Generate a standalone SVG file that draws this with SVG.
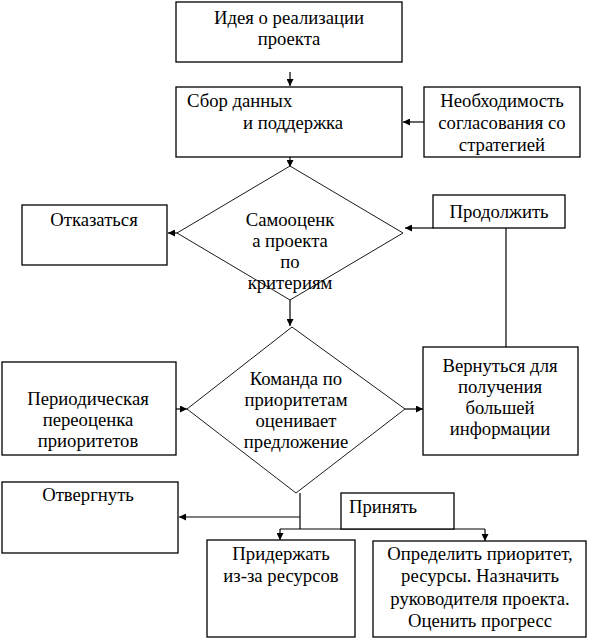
<svg xmlns="http://www.w3.org/2000/svg" width="590" height="638" viewBox="0 0 590 638">
<style>
.box{fill:#fff;stroke:#000;stroke-width:1.3}
.dia{fill:#fff;stroke:#000;stroke-width:0.9}
.ln{fill:none;stroke:#000;stroke-width:1.2}
text{font-family:'Liberation Serif','Times New Roman','DejaVu Serif',serif;font-size:18.7px;fill:#000}
.c{text-anchor:middle}
</style>
<defs>
<marker id="ah" viewBox="0 0 10 10" refX="10" refY="5" markerWidth="7" markerHeight="7" markerUnits="userSpaceOnUse" orient="auto">
<path d="M0,0 L10,5 L0,10 z" fill="#000"/>
</marker>
</defs>
<rect width="590" height="638" fill="#fff"/>
<g id="connectors">
<line class="ln" x1="290" y1="72" x2="290" y2="86" marker-end="url(#ah)"/>
<line class="ln" x1="424" y1="122" x2="403" y2="122" marker-end="url(#ah)"/>
<line class="ln" x1="290" y1="157" x2="290" y2="167" marker-end="url(#ah)"/>
<line class="ln" x1="177" y1="233" x2="168" y2="233" marker-end="url(#ah)"/>
<line class="ln" x1="433" y1="228" x2="405" y2="228" marker-end="url(#ah)"/>
<line class="ln" x1="506" y1="228" x2="506" y2="347"/>
<line class="ln" x1="290" y1="300" x2="290" y2="326" marker-end="url(#ah)"/>
<line class="ln" x1="176" y1="409" x2="187" y2="409" marker-end="url(#ah)"/>
<line class="ln" x1="405" y1="409" x2="423" y2="409" marker-end="url(#ah)"/>
<line class="ln" x1="300" y1="493" x2="300" y2="529"/>
<line class="ln" x1="300" y1="517" x2="179" y2="517" marker-end="url(#ah)"/>
<line class="ln" x1="280" y1="529" x2="485" y2="529"/>
<line class="ln" x1="280" y1="529" x2="280" y2="540" marker-end="url(#ah)"/>
<line class="ln" x1="485" y1="529" x2="485" y2="541" marker-end="url(#ah)"/>
</g>
<g id="idea">
<rect class="box" x="176" y="2" width="226" height="60"/>
<text class="c" x="289" y="24">Идея о реализации</text>
<text class="c" x="289" y="45">проекта</text>
</g>
<g id="collect">
<rect class="box" x="176" y="87" width="226" height="70"/>
<text x="187" y="107">Сбор данных</text>
<text x="243" y="129">и поддержка</text>
</g>
<g id="strategy">
<rect class="box" x="424" y="87" width="156" height="70"/>
<text class="c" x="502" y="107">Необходимость</text>
<text class="c" x="502" y="129">согласования со</text>
<text class="c" x="502" y="151">стратегией</text>
</g>
<g id="refuse">
<rect class="box" x="22" y="205" width="145" height="60"/>
<text class="c" x="94" y="226">Отказаться</text>
</g>
<g id="selfeval">
<polygon class="dia" points="290,166 403,233 290,300 177,233"/>
<text class="c" x="290" y="226">Самооценк</text>
<text class="c" x="290" y="247">а проекта</text>
<text class="c" x="290" y="268">по</text>
<text class="c" x="290" y="289">критериям</text>
</g>
<g id="continue">
<rect class="box" x="433" y="195" width="132" height="33"/>
<text class="c" x="499" y="218">Продолжить</text>
</g>
<g id="periodic">
<rect class="box" x="2" y="362" width="174" height="93"/>
<text class="c" x="88" y="405">Периодическая</text>
<text class="c" x="88" y="426">переоценка</text>
<text class="c" x="88" y="447">приоритетов</text>
</g>
<g id="committee">
<polygon class="dia" points="292,327 405,409 296,493 187,409"/>
<text class="c" x="296" y="385">Команда по</text>
<text class="c" x="296" y="406">приоритетам</text>
<text class="c" x="296" y="427">оценивает</text>
<text class="c" x="296" y="448">предложение</text>
</g>
<g id="return">
<rect class="box" x="423" y="347" width="155" height="108"/>
<text class="c" x="500" y="372">Вернуться для</text>
<text class="c" x="500" y="393">получения</text>
<text class="c" x="500" y="414">большей</text>
<text class="c" x="500" y="435">информации</text>
</g>
<g id="reject">
<rect class="box" x="2" y="482" width="176" height="71"/>
<text class="c" x="88" y="501">Отвергнуть</text>
</g>
<g id="accept">
<rect class="box" x="341" y="493" width="113" height="36"/>
<text x="349" y="513">Принять</text>
</g>
<g id="hold">
<rect class="box" x="207" y="540" width="148" height="97"/>
<text class="c" x="281" y="560">Придержать</text>
<text class="c" x="281" y="582">из-за ресурсов</text>
</g>
<g id="define">
<rect class="box" x="373" y="541" width="213" height="96"/>
<text class="c" x="480" y="560">Определить приоритет,</text>
<text class="c" x="480" y="582">ресурсы. Назначить</text>
<text class="c" x="480" y="605">руководителя проекта.</text>
<text class="c" x="480" y="627">Оценить прогресс</text>
</g>
</svg>
